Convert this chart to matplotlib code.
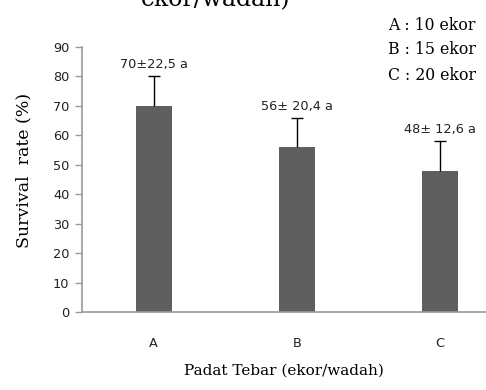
import matplotlib.pyplot as plt
import numpy as np

# data
perlakuan = ["A", "B", "C"]
survival = [70, 56, 48]
galat = [10, 10, 10]
label_nilai = ["70±22,5 a", "56± 20,4 a", "48± 12,6 a"]
keterangan = ["A : 10 ekor", "B : 15 ekor", "C : 20 ekor"]

serif = "DejaVu Serif"

fig = plt.figure(figsize=(4.86, 3.9), dpi=100)
ax = fig.add_axes([82 / 486, 78 / 390, 1 - 82 / 486, 265 / 390])

x = np.arange(len(perlakuan))
ax.bar(x, survival, width=0.25, color="#5f5f5f", zorder=2)
eb = ax.errorbar(x, survival, yerr=[np.zeros(3), galat], fmt="none",
                 ecolor="black", elinewidth=1, capsize=4, capthick=1, zorder=3)
eb[1][0].set_visible(False)  # sembunyikan cap bawah

# label nilai di atas bar
for xi, v, e, t in zip(x, survival, galat, label_nilai):
    ax.text(xi, v + e + 1.7, t, ha="center", va="bottom", fontsize=9.3,
            color="#222222")

ax.set_xlim(-0.5, 2.32)
ax.set_ylim(0, 90)
ax.set_yticks(range(0, 91, 10))
ax.set_xticks(x)
ax.set_xticklabels(perlakuan)
ax.tick_params(axis="x", length=0, pad=18, labelsize=9.3, colors="#222222")
ax.tick_params(axis="y", length=5, width=1, color="#999999", labelsize=9.3,
               labelcolor="#222222", pad=4)
for s in ["top", "right"]:
    ax.spines[s].set_visible(False)
for s in ["left", "bottom"]:
    ax.spines[s].set_color("#999999")
    ax.spines[s].set_linewidth(1.2)

ax.set_ylabel("Survival  rate (%)", family=serif, fontsize=12.5)
ax.yaxis.set_label_coords(-0.122, 0.535)
ax.set_xlabel("Padat Tebar (ekor/wadah)", family=serif,
              fontsize=11, labelpad=10)

# judul yang terpotong di atas
fig.text(216 / 486, 1.0, "ekor/wadah)", ha="center", va="center",
         family=serif, fontsize=17)

# keterangan perlakuan
for i, t in enumerate(keterangan):
    fig.text(388 / 486, 1 - (25 + i * 25) / 390, t, ha="left", va="center",
             family=serif, fontsize=11.3)

fig.savefig("out.png", dpi=100)
